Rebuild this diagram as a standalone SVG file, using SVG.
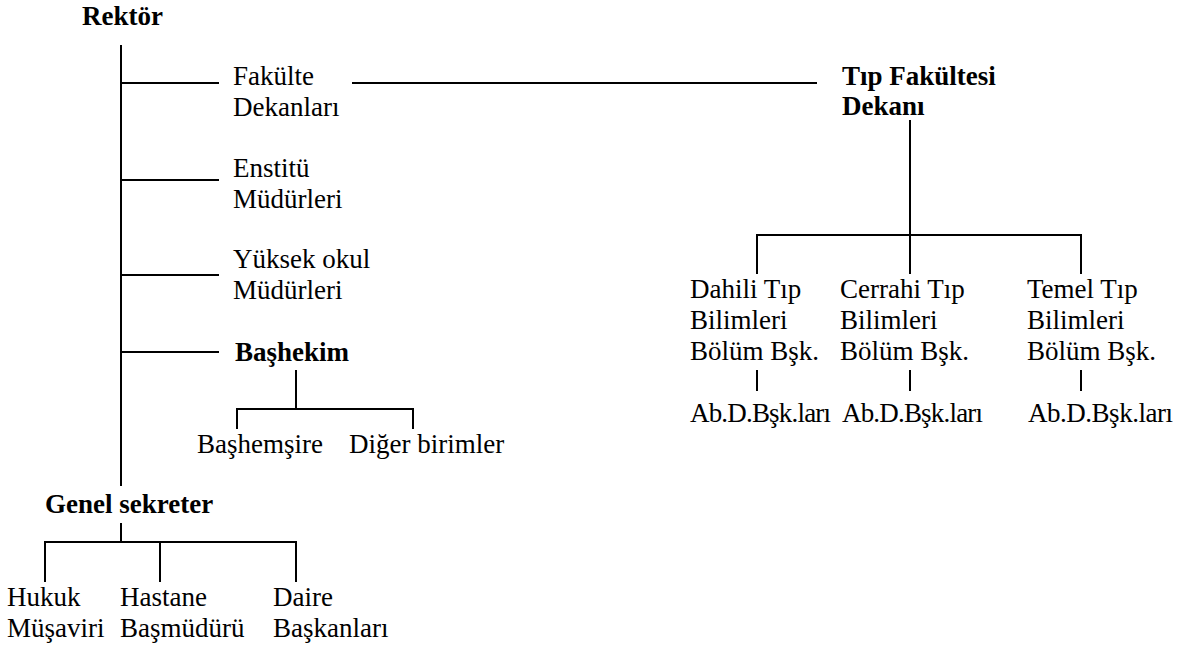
<svg xmlns="http://www.w3.org/2000/svg" width="1192" height="648" viewBox="0 0 1192 648" font-family="'Liberation Serif', 'Times New Roman', Times, 'DejaVu Serif', serif">
<style>
text{font-family:'Liberation Serif','Times New Roman',Times,'DejaVu Serif',serif;font-size:27px;fill:#000}
.b{font-weight:bold}
.c line{stroke:#000;stroke-width:2;fill:none}
</style>
<rect width="1192" height="648" fill="#fff"/>
<g id="connectors" class="c">
<line x1="121" y1="45" x2="121" y2="486"/>
<line x1="121" y1="83" x2="219" y2="83"/>
<line x1="121" y1="180" x2="219" y2="180"/>
<line x1="121" y1="275" x2="219" y2="275"/>
<line x1="121" y1="352" x2="219" y2="352"/>
<line x1="352" y1="83" x2="817" y2="83"/>
<line x1="910" y1="120" x2="910" y2="274"/>
<line x1="757" y1="235" x2="1081" y2="235"/>
<line x1="757" y1="234" x2="757" y2="274"/>
<line x1="1081" y1="234" x2="1081" y2="274"/>
<line x1="757" y1="370" x2="757" y2="391"/>
<line x1="910" y1="370" x2="910" y2="391"/>
<line x1="1081" y1="370" x2="1081" y2="391"/>
<line x1="296" y1="370" x2="296" y2="409"/>
<line x1="237" y1="409" x2="413" y2="409"/>
<line x1="237" y1="408" x2="237" y2="429"/>
<line x1="413" y1="408" x2="413" y2="429"/>
<line x1="121" y1="523" x2="121" y2="542"/>
<line x1="45" y1="542" x2="296" y2="542"/>
<line x1="45" y1="541" x2="45" y2="582"/>
<line x1="160" y1="541" x2="160" y2="582"/>
<line x1="296" y1="541" x2="296" y2="582"/>
</g>
<g id="rektor"><text class="b" x="82" y="25">Rektör</text></g>
<g id="fakulte"><text x="233" y="85">Fakülte</text><text x="233" y="116">Dekanları</text></g>
<g id="enstitu"><text x="233" y="177">Enstitü</text><text x="233" y="208">Müdürleri</text></g>
<g id="yuksekokul"><text x="233" y="268">Yüksek okul</text><text x="233" y="299">Müdürleri</text></g>
<g id="bashekim"><text class="b" x="235" y="361">Başhekim</text></g>
<g id="bashemsire"><text x="197" y="453">Başhemşire</text></g>
<g id="diger"><text x="349" y="453">Diğer birimler</text></g>
<g id="genelsekreter"><text class="b" x="45" y="513">Genel sekreter</text></g>
<g id="hukuk"><text x="7" y="606">Hukuk</text><text x="7" y="637">Müşaviri</text></g>
<g id="hastane"><text x="120" y="606">Hastane</text><text x="120" y="637">Başmüdürü</text></g>
<g id="daire"><text x="273" y="606">Daire</text><text x="273" y="637">Başkanları</text></g>
<g id="tipdekan"><text class="b" x="842" y="85">Tıp Fakültesi</text><text class="b" x="842" y="115">Dekanı</text></g>
<g id="dahili"><text x="690" y="298">Dahili Tıp</text><text x="690" y="329">Bilimleri</text><text x="690" y="360">Bölüm Bşk.</text></g>
<g id="cerrahi"><text x="840" y="298">Cerrahi Tıp</text><text x="840" y="329">Bilimleri</text><text x="840" y="360">Bölüm Bşk.</text></g>
<g id="temel"><text x="1027" y="298">Temel Tıp</text><text x="1027" y="329">Bilimleri</text><text x="1027" y="360">Bölüm Bşk.</text></g>
<g id="abd1"><text x="690" y="422" textLength="141" lengthAdjust="spacing">Ab.D.Bşk.ları</text></g>
<g id="abd2"><text x="842" y="422" textLength="141" lengthAdjust="spacing">Ab.D.Bşk.ları</text></g>
<g id="abd3"><text x="1028" y="422" textLength="145" lengthAdjust="spacing">Ab.D.Bşk.ları</text></g>
</svg>
